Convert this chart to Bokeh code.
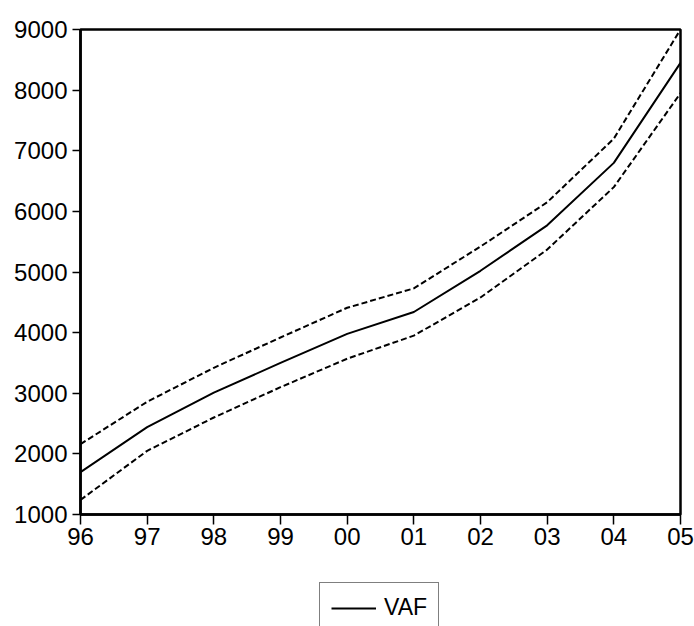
from bokeh.plotting import figure
from bokeh.models import Range1d, FixedTicker, Legend, LegendItem
from bokeh.layouts import column
from bokeh.embed import file_html
from bokeh.resources import INLINE

years = ["96", "97", "98", "99", "00", "01", "02", "03", "04", "05"]
vaf = [1700, 2440, 3010, 3500, 3980, 4340, 5020, 5770, 6800, 8450]
vaf_upper = [2160, 2860, 3420, 3920, 4410, 4730, 5420, 6150, 7200, 9000]
vaf_lower = [1240, 2050, 2600, 3100, 3570, 3950, 4580, 5370, 6400, 7950]
y_ticks = [1000, 2000, 3000, 4000, 5000, 6000, 7000, 8000, 9000]
series_name = "VAF"

x = list(range(len(years)))

p = figure(width=694, height=560, output_backend="svg", toolbar_location=None,
           x_range=Range1d(0, len(years) - 1), y_range=Range1d(1000, 9000),
           min_border_left=80, min_border_right=14, min_border_top=29, min_border_bottom=46)

p.background_fill_color = "white"
p.border_fill_color = "white"
p.outline_line_color = "black"
p.outline_line_width = 2.5
p.xgrid.visible = False
p.ygrid.visible = False

p.line(x, vaf, line_color="black", line_width=2)
p.line(x, vaf_upper, line_color="black", line_width=2, line_dash="6 3")
p.line(x, vaf_lower, line_color="black", line_width=2, line_dash="6 3")

p.xaxis.ticker = FixedTicker(ticks=x)
p.xaxis.major_label_overrides = {i: s for i, s in enumerate(years)}
p.yaxis.ticker = FixedTicker(ticks=y_ticks)

for ax in (p.xaxis[0], p.yaxis[0]):
    ax.axis_line_color = "black"
    ax.axis_line_width = 2.5
    ax.major_tick_line_color = "black"
    ax.major_tick_line_width = 1.5
    ax.major_tick_in = 0
    ax.minor_tick_line_color = None
    ax.major_label_text_font = "Liberation Sans"
    ax.major_label_text_font_size = "24px"
    ax.major_label_text_color = "black"

p.xaxis.major_tick_out = 10
p.xaxis.major_label_standoff = 3
p.yaxis.major_tick_out = 8
p.yaxis.major_label_standoff = 5

# legend strip below the chart (its line lies outside the strip's range, only the legend shows)
lf = figure(width=694, height=66, output_backend="svg", toolbar_location=None,
            x_range=Range1d(0, 1), y_range=Range1d(0, 1),
            x_axis_location=None, y_axis_location=None,
            min_border=0, outline_line_color=None)
lf.xgrid.visible = False
lf.ygrid.visible = False
r_leg = lf.line(x, vaf, line_color="black", line_width=2)

legend = Legend(items=[LegendItem(label=series_name, renderers=[r_leg])],
                location=(239, -7), orientation="horizontal",
                border_line_color="black", border_line_width=1.2,
                background_fill_color="white", background_fill_alpha=1.0,
                label_text_font="Liberation Sans", label_text_font_size="23px",
                label_text_color="black", glyph_width=45, glyph_height=26,
                label_standoff=8, padding=11, margin=0, spacing=0)
lf.add_layout(legend, "center")

open("out.html", "w").write(file_html(column(p, lf, spacing=0), INLINE))
